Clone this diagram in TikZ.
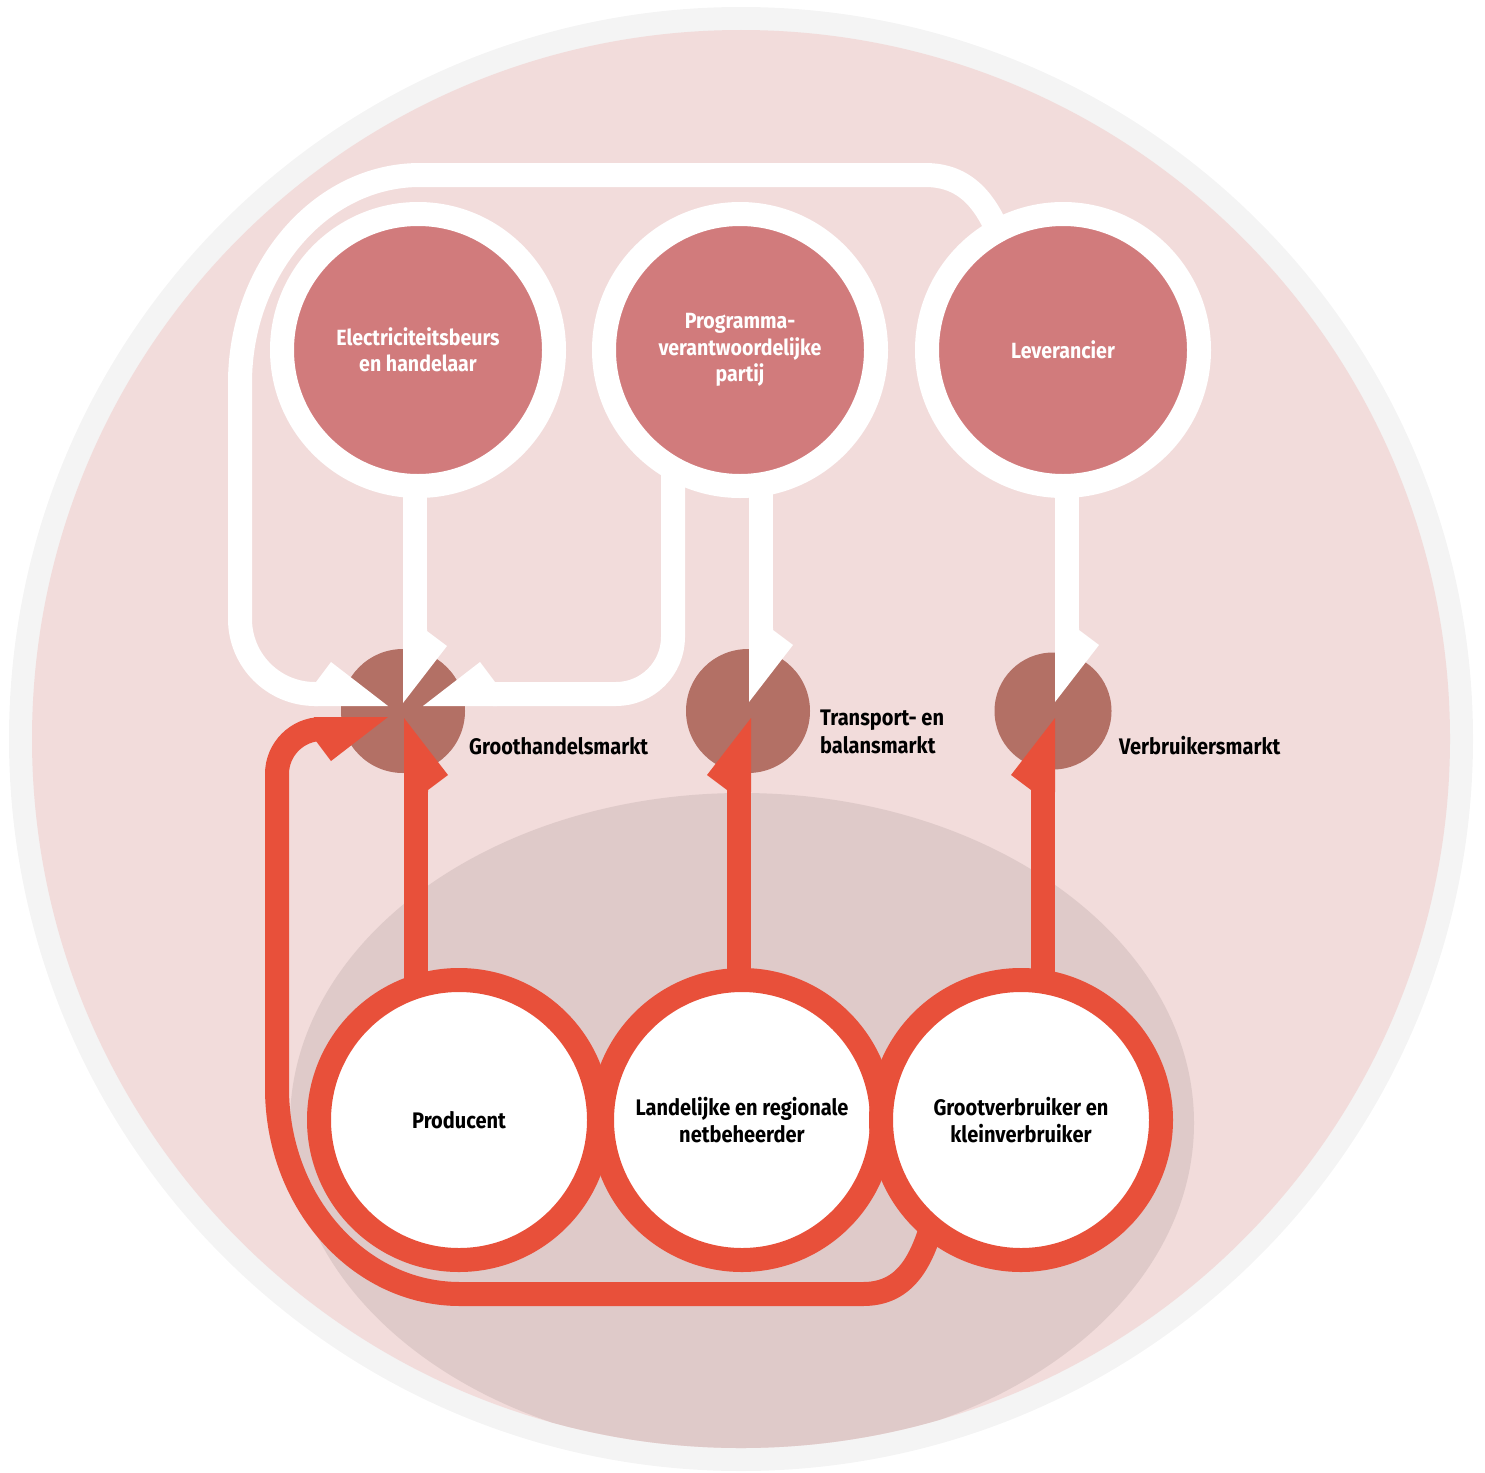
\documentclass[tikz,border=0pt]{standalone}
\usepackage{fontspec}
\setmainfont{Fira Sans}[FakeStretch=0.89]
\usetikzlibrary{calc}
\definecolor{bgpink}{HTML}{F2DCDB}
\definecolor{ringgrey}{HTML}{F4F4F4}
\definecolor{innerbg}{HTML}{DFCAC9}
\definecolor{toprose}{HTML}{D17B7C}
\definecolor{market}{HTML}{B37065}
\definecolor{flowred}{HTML}{E8503A}
\pgfdeclarelayer{back}
\pgfdeclarelayer{mid}
\pgfsetlayers{back,mid,main}
\begin{document}
\begin{tikzpicture}[x=1pt,y=-1pt,
  lbl/.style={font=\fontsize{22.5}{26.5}\selectfont\bfseries, inner sep=0pt},
  topc/.style={circle, minimum size=272pt, inner sep=0pt, fill=toprose, draw=white, line width=24pt, text=white, align=center, lbl, font=\fontsize{22}{26.5}\selectfont\bfseries},
  botc/.style={circle, minimum size=280pt, inner sep=0pt, fill=white, draw=flowred, line width=24pt, text=black, align=center, lbl},
  mkt/.style={circle, minimum size=124pt, inner sep=0pt, fill=market},
  mlabel/.style={lbl, font=\fontsize{22.5}{28}\selectfont\bfseries, align=left, text=black},
  wline/.style={draw=white, line width=24pt},
  rline/.style={draw=flowred, line width=24pt},
  whead/.style={fill=white},
  rhead/.style={fill=flowred}]
\useasboundingbox (0,0) rectangle (1485,1472);

% ---------- main circles (top and bottom rows)
\node[topc] (E) at (418,350) {Electriciteitsbeurs\\en handelaar};
\node[topc] (P) at (740,350) {Programma-\\verantwoordelijke\\partij};
\node[topc] (L) at (1063,350) {Leverancier};
\node[botc] (Pr) at (459,1120) {Producent};
\node[botc] (N) at (742,1120) {Landelijke en regionale\\netbeheerder};
\node[botc] (G) at (1021,1120) {Grootverbruiker en\\kleinverbruiker};

% ---------- background, markets and labels
\begin{pgfonlayer}{back}
\fill[ringgrey] (741,739) circle[radius=732pt];
\fill[bgpink] (741,739) circle[radius=709pt];
\begin{scope}
\clip (741,739) circle[radius=709pt];
\fill[innerbg] (742,1123) ellipse[x radius=452pt, y radius=330pt];
\end{scope}
\node[mkt] (GM) at (403,711) {};
\node[mkt] (TM) at (748,711) {};
\node[mkt, minimum size=117pt] (VM) at (1053,711) {};
\node[mlabel, anchor=base west] (GMl) at (469,754) {Groothandelsmarkt};
\node[mlabel, anchor=west] (TMl) at (820,732) {Transport- en\\balansmarkt};
\node[mlabel, anchor=base west] (VMl) at (1119,754) {Verbruikersmarkt};
\end{pgfonlayer}

% ---------- connectors
\begin{pgfonlayer}{mid}
\coordinate (tGv) at (403,703);
\coordinate (tGr) at (423,706);
\coordinate (tGl) at (388,706);
\coordinate (tTw) at (749,702);
\coordinate (tVw) at (1055,702);
\coordinate (tGu) at (404,718);
\coordinate (tGred) at (388,717);
\coordinate (tTr) at (751,718);
\coordinate (tVr) at (1055,718);

% Electriciteitsbeurs -> Groothandelsmarkt
\draw[wline] ($(E.center)+(-3,0)$) -- ($(tGv)+(12,-70)$);
\fill[whead] (tGv) -- ++(44,-57) -- ++(-20,-15) -- ++(0,-2) -- ++(-24,0) -- cycle;

% Programma -> Groothandelsmarkt
\draw[wline, rounded corners=57pt] ($(P.center)+(-67,0)$) |- ($(tGr)+(70,-12)$);
\fill[whead] (tGr) -- ++(57,-44) -- ++(15,20) -- ++(2,0) -- ++(0,24) -- cycle;

% Programma -> Transport
\draw[wline] ($(P.center)+(21,0)$) -- ($(tTw)+(12,-70)$);
\fill[whead] (tTw) -- ++(44,-57) -- ++(-20,-15) -- ++(0,-2) -- ++(-24,0) -- cycle;

% Leverancier -> Verbruikersmarkt
\draw[wline] ($(L.center)+(4,0)$) -- ($(tVw)+(12,-70)$);
\fill[whead] (tVw) -- ++(44,-57) -- ++(-20,-15) -- ++(0,-2) -- ++(-24,0) -- cycle;

% Leverancier -> Groothandelsmarkt (big loop)
\draw[wline] ($(L.center)+(-58,-100)$) .. controls (988,200) and (965,175) .. (925,175)
  -- (420,175) .. controls (320,175) and (240,270) .. (240,383)
  -- (240,619) arc[start angle=180, end angle=90, radius=75]
  -- ($(tGl)+(-70,-12)$);
\fill[whead] (tGl) -- ++(-57,-44) -- ++(-15,20) -- ++(-2,0) -- ++(0,24) -- cycle;

% Producent -> Groothandelsmarkt
\draw[rline] ($(Pr.center)+(-43,0)$) -- ($(tGu)+(12,70)$);
\fill[rhead] (tGu) -- ++(44,57) -- ++(-20,15) -- ++(0,2) -- ++(-24,0) -- cycle;

% Netbeheerder -> Transport
\draw[rline] ($(N.center)+(-3,0)$) -- ($(tTr)+(-12,70)$);
\fill[rhead] (tTr) -- ++(-44,57) -- ++(20,15) -- ++(0,2) -- ++(24,0) -- cycle;

% Grootverbruiker -> Verbruikersmarkt
\draw[rline] ($(G.center)+(22,0)$) -- ($(tVr)+(-12,70)$);
\fill[rhead] (tVr) -- ++(-44,57) -- ++(20,15) -- ++(0,2) -- ++(24,0) -- cycle;

% Grootverbruiker -> Groothandelsmarkt (big loop)
\draw[rline] ($(G.center)+(-71,50)$) -- (932,1225) .. controls (920,1265) and (903,1294) .. (863,1294)
  -- (460,1294) .. controls (359,1294) and (277,1202) .. (277,1088)
  -- (277,774) arc[start angle=180, end angle=270, radius=45]
  -- ($(tGred)+(-60,12)$);
\fill[rhead] (tGred) -- ++(-57,44) -- ++(-15,-20) -- ++(-2,0) -- ++(0,-24) -- cycle;
\end{pgfonlayer}
\end{tikzpicture}
\end{document}
